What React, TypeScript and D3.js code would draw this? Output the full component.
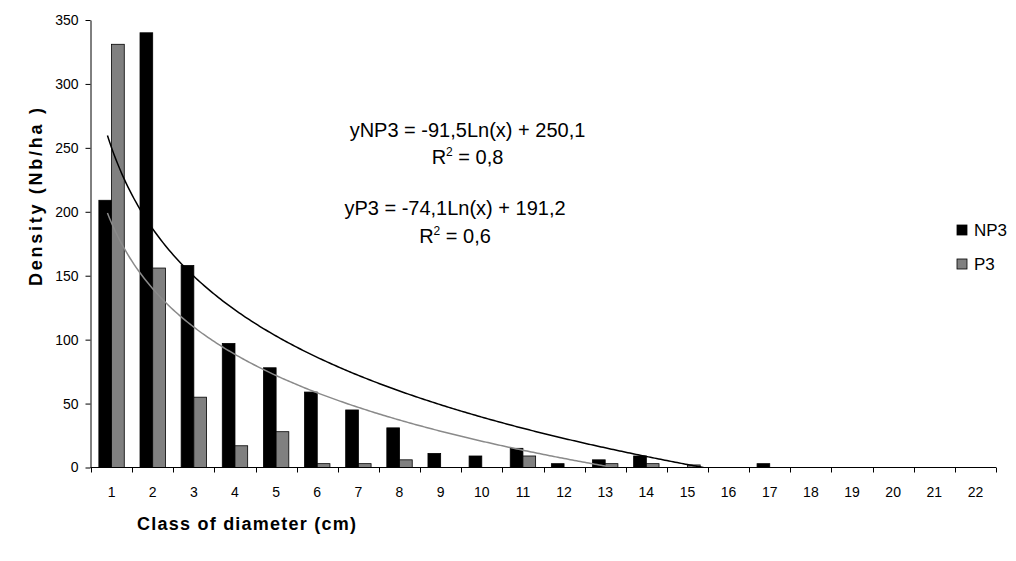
import React, { useRef, useEffect } from 'react';
import * as d3 from 'd3';

// Diameter classes (cm)
const classes = ['1', '2', '3', '4', '5', '6', '7', '8', '9', '10', '11', '12', '13', '14', '15', '16', '17', '18', '19', '20', '21', '22'];
// Density (Nb/ha) per class
const np3 = [209, 340, 158, 97, 78, 59, 45, 31, 11, 9, 15, 3, 6, 9, 0, 0, 3, 0, 0, 0, 0, 0];
const p3 = [331, 156, 55, 17, 28, 3, 3, 6, 0, 0, 9, 0, 3, 3, 2, 0, 0, 0, 0, 0, 0, 0];
const seriesNames = ['NP3', 'P3'];
const seriesColors = ['#000000', '#808080'];
const yTicks = [0, 50, 100, 150, 200, 250, 300, 350];

// Logarithmic trendlines printed on the chart: y = a*Ln(x) + b
const trendNP3 = { a: -91.5, b: 250.1 };
const trendP3 = { a: -74.1, b: 191.2 };

const App = () => {
  const svgRef = useRef<SVGSVGElement>(null);

  useEffect(() => {
    const svg = d3.select(svgRef.current);
    svg.selectAll('*').remove();

    const left = 91, right = 996, top = 20, bottom = 467.5;
    const font = 'Liberation Sans, Arial, sans-serif';

    const x0 = d3.scaleBand().domain(classes).range([left, right]);
    const x1 = d3.scaleBand().domain(seriesNames).range([0, x0.bandwidth()]).paddingOuter(0.62);
    const xLin = d3.scaleLinear().domain([0.5, classes.length + 0.5]).range([left, right]);
    const y = d3.scaleLinear().domain([0, 350]).range([bottom, top]);

    svg.append('defs').append('clipPath').attr('id', 'plotClip')
      .append('rect').attr('x', left).attr('y', top).attr('width', right - left).attr('height', bottom - top);

    // Bars
    const data = classes.map((c, i) => ({ c, vals: [np3[i], p3[i]] }));
    const groups = svg.append('g').selectAll('g').data(data).join('g')
      .attr('transform', d => `translate(${x0(d.c)},0)`);
    groups.selectAll('rect')
      .data(d => d.vals.map((v, k) => ({ v, k })).filter(e => e.v > 0))
      .join('rect')
      .attr('x', e => x1(seriesNames[e.k])!)
      .attr('width', x1.bandwidth())
      .attr('y', e => y(e.v))
      .attr('height', e => bottom - y(e.v))
      .attr('fill', e => seriesColors[e.k])
      .attr('stroke', '#000')
      .attr('stroke-width', 0.8);

    // Trendlines (Excel backward forecast of 0.1 period)
    const xs = d3.range(0.9, 22.001, 0.05);
    const trends = [
      { t: trendNP3, color: '#000000' },
      { t: trendP3, color: '#8a8a8a' },
    ];
    trends.forEach(({ t, color }) => {
      const pts = xs.map(v => [xLin(v), y(t.a * Math.log(v) + t.b)] as [number, number]);
      svg.append('path')
        .attr('clip-path', 'url(#plotClip)')
        .attr('d', d3.line()(pts))
        .attr('fill', 'none')
        .attr('stroke', color)
        .attr('stroke-width', 1.5);
    });

    // Y axis
    const yAxis = svg.append('g')
      .attr('transform', `translate(${left - 0.5},0)`)
      .call(d3.axisLeft(y).tickValues(yTicks).tickSize(5).tickSizeOuter(0).tickPadding(7));
    yAxis.select('.domain').attr('stroke', '#000');
    yAxis.selectAll('text').attr('font-family', font).attr('font-size', 14).attr('fill', '#000');

    // X axis: ticks between categories
    const xAxisG = svg.append('g');
    xAxisG.append('line')
      .attr('x1', left - 0.5).attr('x2', right).attr('y1', bottom).attr('y2', bottom)
      .attr('stroke', '#000');
    xAxisG.selectAll('line.tick').data(d3.range(classes.length + 1)).join('line')
      .attr('class', 'tick')
      .attr('x1', i => Math.round(xLin(i + 0.5)) + 0.5)
      .attr('x2', i => Math.round(xLin(i + 0.5)) + 0.5)
      .attr('y1', bottom).attr('y2', bottom + 5)
      .attr('stroke', '#000');
    xAxisG.selectAll('text').data(classes).join('text')
      .attr('x', c => x0(c)! + x0.bandwidth() / 2)
      .attr('y', bottom + 29)
      .attr('text-anchor', 'middle')
      .attr('font-family', font).attr('font-size', 14)
      .text(c => c);

    // Axis titles
    svg.append('text')
      .attr('transform', 'translate(42,197) rotate(-90)')
      .attr('text-anchor', 'middle')
      .attr('font-family', font).attr('font-size', 18).attr('font-weight', 'bold')
      .attr('textLength', 178).attr('lengthAdjust', 'spacing')
      .text('Density (Nb/ha )');
    svg.append('text')
      .attr('x', 137).attr('y', 530)
      .attr('font-family', font).attr('font-size', 18).attr('font-weight', 'bold')
      .attr('textLength', 219).attr('lengthAdjust', 'spacing')
      .text('Class of diameter (cm)');

    // Trendline equations
    const eq = [
      { cx: 467.5, y1: 137, y2: 164, name: 'yNP3', t: trendNP3, r2: '0,8' },
      { cx: 455, y1: 215, y2: 243, name: 'yP3', t: trendP3, r2: '0,6' },
    ];
    const fmt = (v: number) => v.toFixed(1).replace('.', ',');
    eq.forEach(e => {
      svg.append('text')
        .attr('x', e.cx).attr('y', e.y1).attr('text-anchor', 'middle')
        .attr('font-family', font).attr('font-size', 20)
        .text(`${e.name} = ${fmt(e.t.a)}Ln(x) + ${fmt(e.t.b)}`);
      const r = svg.append('text')
        .attr('x', e.cx).attr('y', e.y2).attr('text-anchor', 'middle')
        .attr('font-family', font).attr('font-size', 20);
      r.append('tspan').text('R');
      r.append('tspan').attr('font-size', 12).attr('dy', -8).text('2');
      r.append('tspan').attr('dy', 8).text(` = ${e.r2}`);
    });

    // Legend
    const legend = svg.append('g').selectAll('g').data(seriesNames).join('g')
      .attr('transform', (d, i) => `translate(957,${225 + i * 34})`);
    legend.append('rect')
      .attr('width', 10).attr('height', 10)
      .attr('fill', (d, i) => seriesColors[i])
      .attr('stroke', '#000').attr('stroke-width', 0.8);
    legend.append('text')
      .attr('x', 17).attr('y', 11)
      .attr('font-family', font).attr('font-size', 17)
      .text(d => d);
  }, []);

  return (
    <svg
      ref={svgRef}
      width={1016}
      height={561}
      style={{ position: 'absolute', left: 0, top: 0, background: '#fff' }}
    />
  );
};

export default App;
